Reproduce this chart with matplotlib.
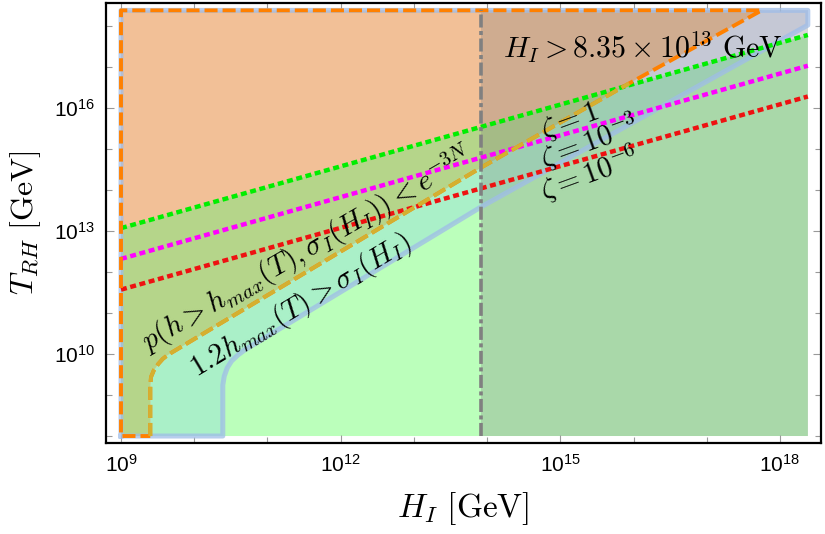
import numpy as np
import matplotlib.pyplot as plt
from matplotlib.ticker import FixedLocator, NullFormatter

plt.rcParams['font.family'] = ['Liberation Sans', 'DejaVu Sans']
plt.rcParams['mathtext.fontset'] = 'custom'
plt.rcParams['mathtext.rm'] = 'Liberation Sans'
plt.rcParams['mathtext.it'] = 'Liberation Sans:italic'
plt.rcParams['lines.scale_dashes'] = False

# plot range, log10 of GeV
H_lo, H_hi = 9.0, 18.38
T_lo, T_hi = 8.0, 18.38
H_cut = np.log10(8.35e13)

# zeta lines: log10 T_RH at the left and right edge
zeta_labels = [r'$\zeta = 1$', r'$\zeta = 10^{-3}$', r'$\zeta = 10^{-6}$']
zeta_T_left = [13.07, 12.32, 11.57]
zeta_T_right = [17.78, 17.03, 16.28]
zeta_colors = ['#00ee00', '#ff00ff', '#ee1111']

# p(h > h_max) < e^{-3N} boundary (log10 H, log10 T)
pb_H = [9.40, 9.40, 9.41, 9.45, 9.51, 9.57, 9.64, 13.93, 15.94, 17.75]
pb_T = [8.00, 9.24, 9.44, 9.61, 9.76, 9.88, 9.98, 14.56, 16.60, 18.38]
pb_gold_end = 9  # goldenrod part stops where it meets zeta = 1

# 1.2 h_max(T) > sigma_I(H_I) boundary
sb_H = [10.39, 10.39, 10.41, 10.45, 10.51, 10.60, 10.69, 13.92, 18.38]
sb_T = [8.00, 9.24, 9.46, 9.66, 9.83, 9.98, 10.10, 13.59, 18.02]

x_major = [9, 12, 15, 18]
x_minor = [10, 11, 13, 14, 16, 17]
y_major = [10, 13, 16]
y_minor = [8, 9, 11, 12, 14, 15, 17, 18]


def lin(h, t):
    return 10.0 ** np.asarray(h, float), 10.0 ** np.asarray(t, float)


fig = plt.figure(figsize=(8.25, 5.34), dpi=100)
ax = fig.add_axes([106 / 825, 1 - 443 / 534, 715 / 825, 440 / 534])
ax.set_xscale('log')
ax.set_yscale('log')
ax.set_xlim(10 ** 8.795, 10 ** 18.56)
ax.set_ylim(10 ** 7.83, 10 ** 18.56)

# region outlines in log space
G_h = [H_lo, H_hi, H_hi, H_lo]
G_t = [T_lo, T_lo, zeta_T_right[0], zeta_T_left[0]]
B_h = [H_lo] + sb_H + [H_hi, H_lo]
B_t = [T_lo] + sb_T + [T_hi, T_hi]
# start at the bottom of the p-boundary so orange and goldenrod dashes line up
P_h = pb_H + [H_lo, H_lo, pb_H[0]]
P_t = pb_T + [T_hi, T_lo, pb_T[0]]

# fills: blue only, green, green+blue, peach, peach+green, grey band
ax.fill(*lin(B_h, B_t), color='#e4e8fa', lw=0)
g_patch = ax.fill(*lin(G_h, G_t), color='#bbffbb', lw=0)[0]
m_patch = ax.fill(*lin(B_h, B_t), color='#aaf0c8', lw=0)[0]
m_patch.set_clip_path(g_patch)
ax.fill(*lin(P_h, P_t), color='#f2c097', lw=0)
o_patch = ax.fill(*lin(P_h, P_t), color='#b5d58a', lw=0)[0]
o_patch.set_clip_path(g_patch)
ax.fill(*lin([H_cut, H_hi, H_hi, H_cut], [T_lo, T_lo, T_hi, T_hi]),
        color='#808080', alpha=0.3, lw=0)

# blue outline
ax.plot(*lin(B_h + [B_h[0]], B_t + [B_t[0]]), color='#9fbde8', alpha=0.75,
        lw=3.6, solid_joinstyle='round')

# zeta lines
for tl, tr, c in zip(zeta_T_left, zeta_T_right, zeta_colors):
    ax.plot(*lin([H_lo, H_hi], [tl, tr]), color=c, lw=3.2,
            dashes=(4.3, 2.6), dash_capstyle='butt')

# orange outline and goldenrod boundary
ax.plot(*lin(P_h, P_t), color='#ff8000', lw=2.8, dashes=(9.4, 3.6))
ax.plot(*lin(pb_H[:pb_gold_end], pb_T[:pb_gold_end]), color='#d4b030',
        lw=2.8, dashes=(9.4, 3.6))

# H_I cut
ax.plot(*lin([H_cut, H_cut], [T_lo, T_hi]), color='#808080', lw=2.6,
        dashes=(9.4, 2.5, 2.9, 2.5))

# texts
tk = dict(math_fontfamily='cm', ha='center', va='center',
          rotation_mode='anchor', color='black')
ax.text(*lin(16.13, 17.49), r'$H_I > 8.35 \times 10^{13}\ \mathrm{GeV}$',
        fontsize=21.5, **tk)
ax.text(*lin(11.55, 12.56), r'$p(h > h_{max}(T), \sigma_I(H_I)) < e^{-3N}$',
        rotation=30, fontsize=21, **tk)
ax.text(*lin(11.46, 11.18), r'$1.2 h_{max}(T) > \sigma_I(H_I)$',
        rotation=31, fontsize=21, **tk)
zeta_pos_h = [15.13, 15.40, 15.40]
zeta_pos_t = [15.66, 15.17, 14.39]
for s, h, t in zip(zeta_labels, zeta_pos_h, zeta_pos_t):
    ax.text(*lin(h, t), s, rotation=20, fontsize=21, **tk)

# ticks
ax.xaxis.set_major_locator(FixedLocator(10.0 ** np.array(x_major)))
ax.xaxis.set_minor_locator(FixedLocator(10.0 ** np.array(x_minor)))
ax.yaxis.set_major_locator(FixedLocator(10.0 ** np.array(y_major)))
ax.yaxis.set_minor_locator(FixedLocator(10.0 ** np.array(y_minor)))
ax.set_xticklabels([r'$10^{%d}$' % v for v in x_major])
ax.set_yticklabels([r'$10^{%d}$' % v for v in y_major])
ax.xaxis.set_minor_formatter(NullFormatter())
ax.yaxis.set_minor_formatter(NullFormatter())
ax.tick_params(which='both', direction='in', top=True, right=True,
               color='#999999', width=0.8, labelsize=15, pad=8)
ax.tick_params(which='major', length=6)
ax.tick_params(which='minor', length=4)
for sp in ax.spines.values():
    sp.set_linewidth(1.6)

ax.set_xlabel(r'$H_I\ [\mathrm{GeV}]$', fontsize=24, math_fontfamily='cm',
              labelpad=10)
ax.set_ylabel(r'$T_{RH}\ [\mathrm{GeV}]$', fontsize=23, math_fontfamily='cm',
              labelpad=8)

fig.savefig('out.png', dpi=100)
